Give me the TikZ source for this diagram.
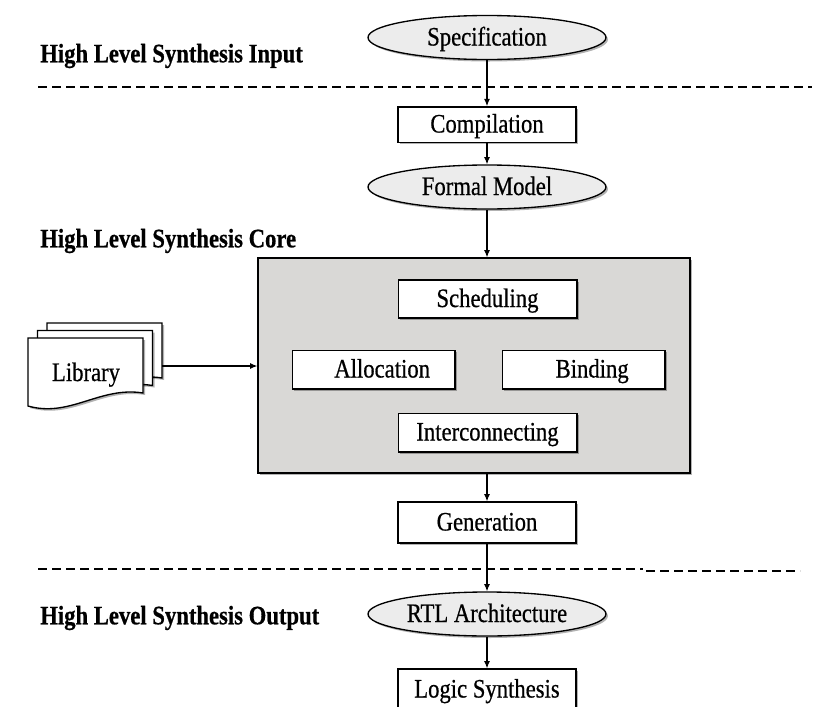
\documentclass[tikz,border=0pt]{standalone}
\usepackage{fontspec}
\setmainfont{Liberation Serif}[FakeStretch=0.85,FakeBold=0.6]
\usetikzlibrary{shapes.geometric,shadows,arrows.meta}

\definecolor{ellgray}{HTML}{ECECEC}
\definecolor{coregray}{HTML}{D9D8D6}

\begin{document}
\begin{tikzpicture}[x=0.75pt,y=-0.75pt,
  txt/.style={font=\fontsize{20}{24}\selectfont,text height=13.5pt,text depth=1.5pt},
  shad/.style={drop shadow={shadow xshift=1.5pt,shadow yshift=-1.5pt,fill=black,opacity=0.3}},
  stepbox/.style={txt,draw=black,line width=1pt,fill=white,shad,inner sep=0pt,
    minimum width=133.5pt,minimum height=26.5pt},
  blob/.style={txt,ellipse,draw=black,line width=1pt,fill=ellgray,shad,inner sep=0pt,
    minimum width=178.5pt,minimum height=33pt},
  heading/.style={font=\fontsize{20}{24}\selectfont\bfseries,anchor=west,inner sep=0pt},
  arr/.style={-{Latex[length=5.5pt,width=4.5pt]},line width=0.8pt},
  sep/.style={dash pattern=on 6.5pt off 4pt,line width=1.8pt},
  sheet/.pic={\path[draw=black,fill=white,shad,line width=1pt]
    (0,0) -- (115,0) -- (115,55) .. controls (72,48) and (42,80) .. (0,68) -- cycle;}]

\useasboundingbox (0,0) rectangle (815,707);
\clip (0,0) rectangle (815,707);

% section separators
\draw[sep] (38,87) -- (812,87);
\draw[sep] (38,569) -- (643,569);
\draw[sep] (646,571) -- (800,571);

% section headings
\node[heading] (hin)   at (40,56)  {High Level Synthesis Input};
\node[heading] (hcore) at (40,241) {High Level Synthesis Core};
\node[heading] (hout)  at (40,618) {High Level Synthesis Output};

% main flow
\node[blob] (spec) at (487,37.5) {Specification};
\node[stepbox] (comp) at (487,124.5) {Compilation};
\node[blob] (formal) at (487,187) {Formal Model};

% synthesis core
\node[draw=black,fill=coregray,shad,line width=1pt,inner sep=0pt,
  minimum width=324pt,minimum height=161.25pt] (core) at (474,365.5) {};
\node[stepbox,minimum width=134pt,minimum height=28.5pt] (sched) at (487.5,299) {Scheduling};
\node[stepbox,minimum width=122pt,minimum height=29pt] (alloc) at (373.5,369.5) {\hspace*{13pt}Allocation};
\node[stepbox,minimum width=122pt,minimum height=29pt] (bind) at (583.5,369.5) {\hspace*{13pt}Binding};
\node[stepbox,minimum width=134pt,minimum height=29pt] (inter) at (487.5,432.5) {Interconnecting};

\node[stepbox,minimum height=30.75pt] (gen) at (487,522.5) {Generation};
\node[blob] (rtl) at (487,614) {RTL Architecture};
\node[stepbox,minimum height=30.75pt] (logic) at (487,689.5) {Logic Synthesis};

% component library (stacked documents)
\pic at (47,323) {sheet};
\pic at (37.5,330.5) {sheet};
\pic at (28,338) {sheet};
\node[txt] (lib) at (86,373) {Library};
\coordinate (libout) at (162,366);

% connectors
\draw[arr] (spec) -- (comp);
\draw[arr] (comp) -- (formal);
\draw[arr] (formal) -- (formal |- core.north);
\draw[arr] (libout) -- (libout -| core.west);
\draw[arr] (core.south -| gen) -- (gen);
\draw[arr] (gen) -- (rtl);
\draw[arr] (rtl) -- (logic);

\end{tikzpicture}
\end{document}
